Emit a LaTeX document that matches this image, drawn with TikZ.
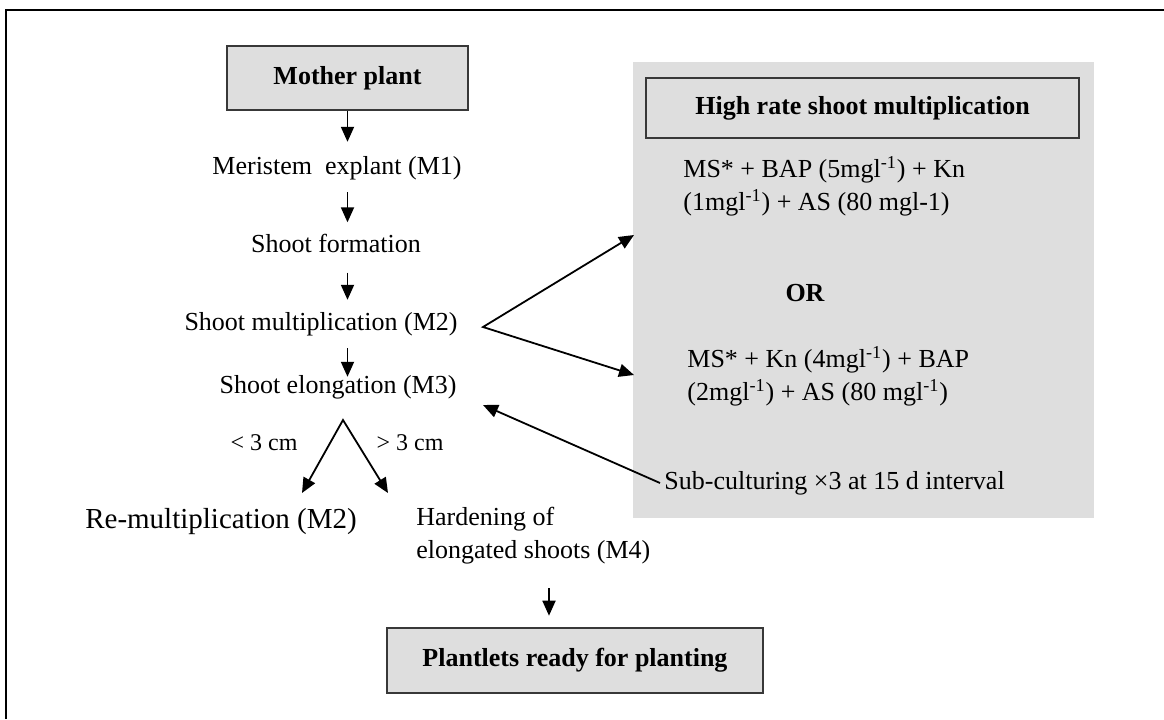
\documentclass[tikz,border=0pt]{standalone}
\usepackage{fontspec}
\setmainfont{Liberation Serif}
\usetikzlibrary{arrows.meta}
\definecolor{boxgray}{HTML}{DEDEDE}
\definecolor{edgegray}{HTML}{383838}

\begin{document}
\begin{tikzpicture}[x=0.5pt,y=-0.5pt,
        every node/.style={font=\fontsize{13}{16.5}\selectfont},
        txt/.style={inner sep=2pt},
        headbox/.style={draw=edgegray,line width=1.3pt,fill=boxgray,inner sep=2pt,
            font=\fontsize{13}{16}\selectfont\bfseries},
        headtip/.tip={Triangle[length=7.5pt,width=6.5pt]},
        arr/.style={-headtip,line width=0.9pt},
        twoarr/.style={headtip-headtip,line width=0.9pt}]
    \useasboundingbox (0,0) rectangle (1164,719);
    \fill[white] (0,0) rectangle (1164,719);
    % outer frame
    \draw[line width=1.2pt] (6,719) -- (6,10) -- (1164,10);
    % grey panel and its heading
    \node[fill=boxgray,minimum width=230.5pt,minimum height=228pt,inner sep=0pt] (panel) at (863.5,290) {};
    \node[headbox,minimum width=216.5pt,minimum height=30pt] (high) at (862.5,108) {High rate shoot multiplication};
    % main column
    \node[headbox,minimum width=120.5pt,minimum height=32pt] (mother) at (347.5,78) {Mother plant};
    \node[txt] (meri) at (337,168) {Meristem\ \ explant (M1)};
    \node[txt] (form) at (336,243) {Shoot formation};
    \node[txt] (mult) at (321,324) {Shoot multiplication (M2)};
    \node[txt] (elong) at (338,387) {Shoot elongation (M3)};
    \node[txt,font=\fontsize{12}{14}\selectfont] (less) at (264,443) {< 3 cm};
    \node[txt,font=\fontsize{12}{14}\selectfont] (more) at (410,443) {> 3 cm};
    \node[txt,font=\fontsize{14.5}{17}\selectfont] (remult) at (221,522) {Re-multiplication (M2)};
    \node[txt,anchor=west,align=left] (harden) at (412,536) {Hardening of\\elongated shoots (M4)};
    \node[headbox,minimum width=188pt,minimum height=32.5pt] (plant) at (575,660.5) {Plantlets ready for planting};
    % media inside the panel
    \node[txt,anchor=west,align=left] (mediumA) at (679,186.5) {MS* + BAP (5mgl\textsuperscript{-1}) + Kn\\(1mgl\textsuperscript{-1}) + AS (80 mgl-1)};
    \node[txt,font=\fontsize{13}{16}\selectfont\bfseries] (or) at (805,293) {OR};
    \node[txt,anchor=west,align=left] (mediumB) at (683,376) {MS* + Kn (4mgl\textsuperscript{-1}) + BAP\\(2mgl\textsuperscript{-1}) + AS (80 mgl\textsuperscript{-1})};
    \node[txt,anchor=west] (sub) at (660,483) {Sub-culturing ×3 at 15 d interval};
    % connector ends
    \coordinate (split) at (343,420);
    \coordinate (toremult) at (302,493);
    \coordinate (toharden) at (388,493);
    \coordinate (fork) at (483,327);
    \coordinate (toA) at (634,235);
    \coordinate (toB) at (634,375);
    \coordinate (back) at (483,405);
    \coordinate (hardfoot) at (549,588);
    % arrows
    \draw[arr,shorten >=5pt] (mother.south) -- (mother.south |- meri.north);
    \draw[arr,shorten <=4pt,shorten >=3.5pt] (mother.south |- meri.south) -- (mother.south |- form.north);
    \draw[arr,shorten <=8pt,shorten >=4pt] (mother.south |- form.south) -- (mother.south |- mult.north);
    \draw[arr,shorten <=4pt,shorten >=-3pt] (mother.south |- mult.south) -- (mother.south |- elong.north);
    \draw[twoarr] (toremult) -- (split) -- (toharden);
    \draw[twoarr] (toA) -- (fork) -- (toB);
    \draw[arr] (sub.west) -- (back);
    \draw[arr,shorten >=5.5pt] (hardfoot) -- (hardfoot |- plant.north);
\end{tikzpicture}
\end{document}
